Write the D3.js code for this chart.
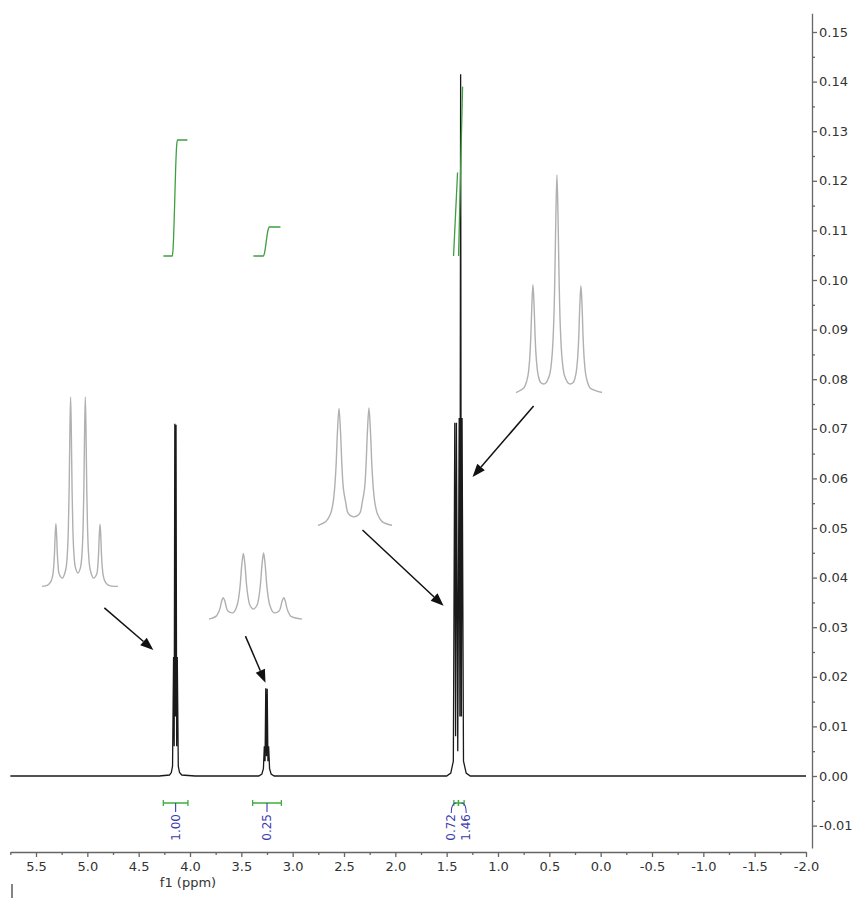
<!DOCTYPE html>
<html>
<head>
<meta charset="utf-8">
<script src="https://cdn.jsdelivr.net/npm/d3@7"></script>
<style>
  body { margin: 0; background: #fff; }
  text { font-family: "DejaVu Sans", Verdana, sans-serif; }
</style>
</head>
<body>
<script>
// axis ticks
const xTicks = [5.5, 5.0, 4.5, 4.0, 3.5, 3.0, 2.5, 2.0, 1.5, 1.0, 0.5, 0.0, -0.5, -1.0, -1.5, -2.0];
const xMinor = [5.75, 5.25, 4.75, 4.25, 3.75, 3.25, 2.75, 2.25, 1.75, 1.25, 0.75, 0.25, -0.25, -0.75, -1.25, -1.75];
const yTicks = [-0.01, 0.00, 0.01, 0.02, 0.03, 0.04, 0.05, 0.06, 0.07, 0.08, 0.09, 0.10, 0.11, 0.12, 0.13, 0.14, 0.15];
const yMinor = [-0.005, 0.005, 0.015, 0.025, 0.035, 0.045, 0.055, 0.065, 0.075, 0.085, 0.095, 0.105, 0.115, 0.125, 0.135, 0.145];

// 1H spectrum [ppm, intensity]
const spectrum = [
  [5.75, 0], [4.30, 0], [4.20, 0.0002], [4.182, 0.0007], [4.170, 0.002],
  [4.160, 0.024], [4.154, 0.006], [4.148, 0.071], [4.142, 0.012], [4.136, 0.0708],
  [4.130, 0.006], [4.124, 0.024], [4.114, 0.002], [4.102, 0.0007], [4.08, 0.0002],
  [3.95, 0], [3.33, 0], [3.30, 0.0004], [3.285, 0.0015], [3.276, 0.006],
  [3.269, 0.003], [3.262, 0.0177], [3.255, 0.004], [3.248, 0.0176], [3.241, 0.003],
  [3.234, 0.006], [3.225, 0.0015], [3.21, 0.0004], [3.18, 0],
  [1.50, 0], [1.46, 0.0006], [1.435, 0.003], [1.421, 0.0712], [1.413, 0.008],
  [1.405, 0.0712], [1.392, 0.005], [1.378, 0.0722], [1.371, 0.012], [1.364, 0.1415],
  [1.357, 0.012], [1.350, 0.0722], [1.336, 0.003], [1.31, 0.0006], [1.27, 0],
  [-2.0, 0]
];

// expansions of the multiplets [ppm, intensity]
const insetQuartetA = [
  [4.174, 0.0006], [4.167, 0.0011], [4.163, 0.0025], [4.161, 0.0045], [4.1597, 0.0079],
  [4.1588, 0.0124], [4.1579, 0.0196], [4.157, 0.0240], [4.1561, 0.0196], [4.1552, 0.0126],
  [4.1543, 0.0084], [4.153, 0.0052], [4.149, 0.0037], [4.145, 0.0068], [4.143, 0.0127],
  [4.1417, 0.0228], [4.1408, 0.0363], [4.1399, 0.0576], [4.139, 0.0712], [4.1381, 0.0577],
  [4.1372, 0.0364], [4.1363, 0.0230], [4.135, 0.0131], [4.133, 0.0075], [4.130, 0.0056],
  [4.127, 0.0075], [4.125, 0.0131], [4.1237, 0.0230], [4.1228, 0.0364], [4.1219, 0.0577],
  [4.121, 0.0712], [4.1201, 0.0576], [4.1192, 0.0363], [4.1183, 0.0228], [4.117, 0.0127],
  [4.115, 0.0068], [4.111, 0.0037], [4.107, 0.0052], [4.1057, 0.0084], [4.1048, 0.0126],
  [4.1039, 0.0196], [4.103, 0.0238], [4.1021, 0.0196], [4.1012, 0.0124], [4.1003, 0.0079],
  [4.099, 0.0045], [4.097, 0.0025], [4.093, 0.0011], [4.081, 0.0006]
];
const insetQuartetB = [
  [3.2858, 0.0005], [3.281, 0.0012], [3.2793, 0.0022], [3.2782, 0.0033], [3.2771, 0.0051],
  [3.276, 0.0061], [3.2749, 0.0053], [3.2738, 0.0036], [3.2727, 0.0026], [3.269, 0.0022],
  [3.2665, 0.0039], [3.2653, 0.0060], [3.2642, 0.0094], [3.2631, 0.0147], [3.262, 0.0177],
  [3.2609, 0.0147], [3.2598, 0.0095], [3.2587, 0.0062], [3.2575, 0.0042], [3.255, 0.0031],
  [3.2525, 0.0042], [3.2513, 0.0062], [3.2502, 0.0095], [3.2491, 0.0147], [3.248, 0.0178],
  [3.2469, 0.0147], [3.2458, 0.0094], [3.2447, 0.0060], [3.2435, 0.0039], [3.241, 0.0022],
  [3.2373, 0.0026], [3.2362, 0.0036], [3.2351, 0.0053], [3.234, 0.0061], [3.2329, 0.0051],
  [3.2318, 0.0033], [3.2307, 0.0022], [3.229, 0.0012], [3.2214, 0.0005]
];
const insetDoublet = [
  [1.4322, 0.0016], [1.428, 0.0038], [1.4256, 0.0081], [1.4242, 0.0147], [1.4234, 0.0225],
  [1.4226, 0.0360], [1.4218, 0.0574], [1.421, 0.0710], [1.4202, 0.0576], [1.4194, 0.0363],
  [1.4186, 0.0229], [1.4174, 0.0152], [1.416, 0.0085], [1.413, 0.0066], [1.410, 0.0085],
  [1.4086, 0.0152], [1.4074, 0.0229], [1.4066, 0.0363], [1.4058, 0.0576], [1.405, 0.0712],
  [1.4042, 0.0574], [1.4034, 0.0360], [1.4026, 0.0225], [1.4018, 0.0147], [1.4004, 0.0081],
  [1.398, 0.0038], [1.3927, 0.0016]
];
const insetTriplet = [
  [1.3879, 0.0016], [1.3835, 0.0044], [1.3825, 0.0062], [1.381, 0.0120], [1.380, 0.0219],
  [1.3793, 0.0364], [1.37865, 0.0577], [1.378, 0.0712], [1.37735, 0.0578], [1.3767, 0.0365],
  [1.376, 0.0227], [1.375, 0.0132], [1.3735, 0.0081], [1.371, 0.0073], [1.3685, 0.0122],
  [1.367, 0.0234], [1.366, 0.0431], [1.3653, 0.0718], [1.36465, 0.1144], [1.364, 0.1420],
  [1.36335, 0.1144], [1.3627, 0.0718], [1.362, 0.0431], [1.361, 0.0234], [1.3595, 0.0122],
  [1.357, 0.0073], [1.3545, 0.0081], [1.353, 0.0132], [1.352, 0.0227], [1.3513, 0.0365],
  [1.35065, 0.0578], [1.350, 0.0705], [1.34935, 0.0577], [1.3487, 0.0364], [1.348, 0.0219],
  [1.347, 0.0120], [1.3455, 0.0062], [1.3445, 0.0044], [1.3377, 0.0016]
];

// integral curves [ppm, cumulative integral]
const integralA = [[4.259, 0], [4.172, 0], [4.166, 0.05], [4.130, 0.95], [4.123, 1.00], [4.025, 1.00]];
const integralB = [[3.382, 0], [3.284, 0], [3.276, 0.02], [3.238, 0.23], [3.228, 0.25], [3.119, 0.25]];
const integralC = [[1.433, 0], [1.394, 0.72]];
const integralD = [[1.384, 0], [1.345, 1.46]];
const integralRanges = [[4.26, 4.02], [3.39, 3.11], [1.43, 1.385], [1.385, 1.33]];
const integralValues = [1.00, 0.25, 0.72, 1.46];

// arrows from expansions to peaks [ppm, intensity] -> [ppm, intensity]
const arrows = [
  [[4.834, 0.0339], [4.357, 0.0254]],
  [[3.460, 0.0282], [3.265, 0.0188]],
  [[2.320, 0.0496], [1.530, 0.0343]],
  [[0.653, 0.0746], [1.248, 0.0603]]
];

const svg = d3.select("body").append("svg")
  .attr("width", 855)
  .attr("height", 900);

const x = d3.scaleLinear().domain([5.5, -2.0]).range([36, 806]);
const y = d3.scaleLinear().domain([0, 0.15]).range([776, 32]);

// x axis
const xa = x.copy().domain([5.75, -2.0]).range([x(5.75), x(-2.0)]);
const xAxis = svg.append("g").attr("transform", "translate(0,852)");
xAxis.call(d3.axisBottom(xa).tickValues(xTicks).tickFormat(d => d.toFixed(1))
  .tickSize(5).tickSizeOuter(0).tickPadding(5));
xAxis.append("g").call(d3.axisBottom(xa).tickValues(xMinor).tickFormat("").tickSize(3))
  .select(".domain").remove();

// y axis
const ya = y.copy().domain([-0.0145, 0.1538]).range([y(-0.0145), y(0.1538)]);
const yAxis = svg.append("g").attr("transform", "translate(812,0)");
yAxis.call(d3.axisRight(ya).tickValues(yTicks).tickFormat(d => d.toFixed(2))
  .tickSize(5).tickSizeOuter(0).tickPadding(2));
yAxis.append("g").call(d3.axisRight(ya).tickValues(yMinor).tickFormat("").tickSize(3))
  .select(".domain").remove();

svg.selectAll(".domain, .tick line").attr("stroke", "#666").attr("stroke-width", 1.3);
svg.selectAll(".tick text").attr("font-size", 13).attr("fill", "#333")
  .attr("font-family", "DejaVu Sans, Verdana, sans-serif");

svg.append("text")
  .attr("x", 188)
  .attr("y", 887)
  .attr("text-anchor", "middle")
  .attr("font-size", 13)
  .attr("fill", "#333")
  .text("f1 (ppm)");

svg.append("line")
  .attr("x1", 12).attr("x2", 12)
  .attr("y1", 884).attr("y2", 898)
  .attr("stroke", "#333").attr("stroke-width", 1.2);

// expansions
const insets = [
  {data: insetQuartetA, dom: [4.174, 4.081], xr: [42, 118], top: 0.0712, yr: [588, 397]},
  {data: insetQuartetB, dom: [3.2858, 3.2214], xr: [209, 302], top: 0.0178, yr: [621, 553]},
  {data: insetDoublet, dom: [1.4322, 1.3927], xr: [318, 392], top: 0.0712, yr: [528, 408]},
  {data: insetTriplet, dom: [1.3879, 1.3377], xr: [516, 602], top: 0.1420, yr: [395, 175]}
];
insets.forEach(s => {
  const ix = d3.scaleLinear().domain(s.dom).range(s.xr);
  const iy = d3.scaleLinear().domain([0, s.top]).range(s.yr);
  svg.append("path")
    .datum(s.data)
    .attr("fill", "none")
    .attr("stroke", "#b0b0b0")
    .attr("stroke-width", 1.4)
    .attr("d", d3.line().x(d => ix(d[0])).y(d => iy(d[1])).curve(d3.curveCatmullRom.alpha(0.5)));
});

// spectrum
svg.append("path")
  .datum(spectrum)
  .attr("fill", "none")
  .attr("stroke", "#1a1a1a")
  .attr("stroke-width", 1.3)
  .attr("d", d3.line().x(d => x(d[0])).y(d => y(d[1])));

// integral curves
const iy = d3.scaleLinear().domain([0, 1]).range([256, 140]);
[integralA, integralB, integralC, integralD].forEach(c => {
  svg.append("path")
    .datum(c)
    .attr("fill", "none")
    .attr("stroke", "#3f9f3f")
    .attr("stroke-width", 1.3)
    .attr("d", d3.line().x(d => x(d[0])).y(d => iy(d[1])).curve(d3.curveMonotoneX));
});

// integral brackets + values
const by = 803;
const centers = integralRanges.map(r => (x(r[0]) + x(r[1])) / 2);
const labelX = centers.slice();
for (let i = 1; i < labelX.length; i++) {
  if (labelX[i] - labelX[i - 1] < 15) {
    const mid = (labelX[i] + labelX[i - 1]) / 2;
    labelX[i - 1] = mid - 7.5;
    labelX[i] = mid + 7.5;
  }
}
integralRanges.forEach((r, i) => {
  const x0 = x(r[0]), x1 = x(r[1]);
  svg.append("path")
    .attr("fill", "none")
    .attr("stroke", "#3fae3f")
    .attr("stroke-width", 1.3)
    .attr("d", `M${x0},${by - 3}V${by + 3}M${x0},${by}H${x1}M${x1},${by - 3}V${by + 3}`);
  const cx = centers[i], lx = labelX[i];
  const conn = Math.abs(cx - lx) < 1
    ? `M${cx},${by}V${by + 9}`
    : `M${cx},${by}Q${lx},${by} ${lx},${by + 10}`;
  svg.append("path")
    .attr("fill", "none")
    .attr("stroke", "#3b3bae")
    .attr("stroke-width", 1.1)
    .attr("d", conn);
  svg.append("text")
    .attr("transform", `translate(${lx},${by + 11}) rotate(-90)`)
    .attr("text-anchor", "end")
    .attr("dy", "0.35em")
    .attr("font-size", 12)
    .attr("fill", "#3b3bae")
    .text(integralValues[i].toFixed(2));
});

// arrows
arrows.forEach(a => {
  const x1 = x(a[0][0]), y1 = y(a[0][1]);
  const x2 = x(a[1][0]), y2 = y(a[1][1]);
  const len = Math.hypot(x2 - x1, y2 - y1);
  const ux = (x2 - x1) / len, uy = (y2 - y1) / len;
  const hl = 13, hw = 5;
  const bx = x2 - ux * hl, byy = y2 - uy * hl;
  svg.append("line")
    .attr("x1", x1).attr("y1", y1)
    .attr("x2", bx).attr("y2", byy)
    .attr("stroke", "#111").attr("stroke-width", 1.5);
  svg.append("path")
    .attr("fill", "#111")
    .attr("d", `M${x2},${y2}L${bx - uy * hw},${byy + ux * hw}L${bx + uy * hw},${byy - ux * hw}Z`);
});
</script>
</body>
</html>
